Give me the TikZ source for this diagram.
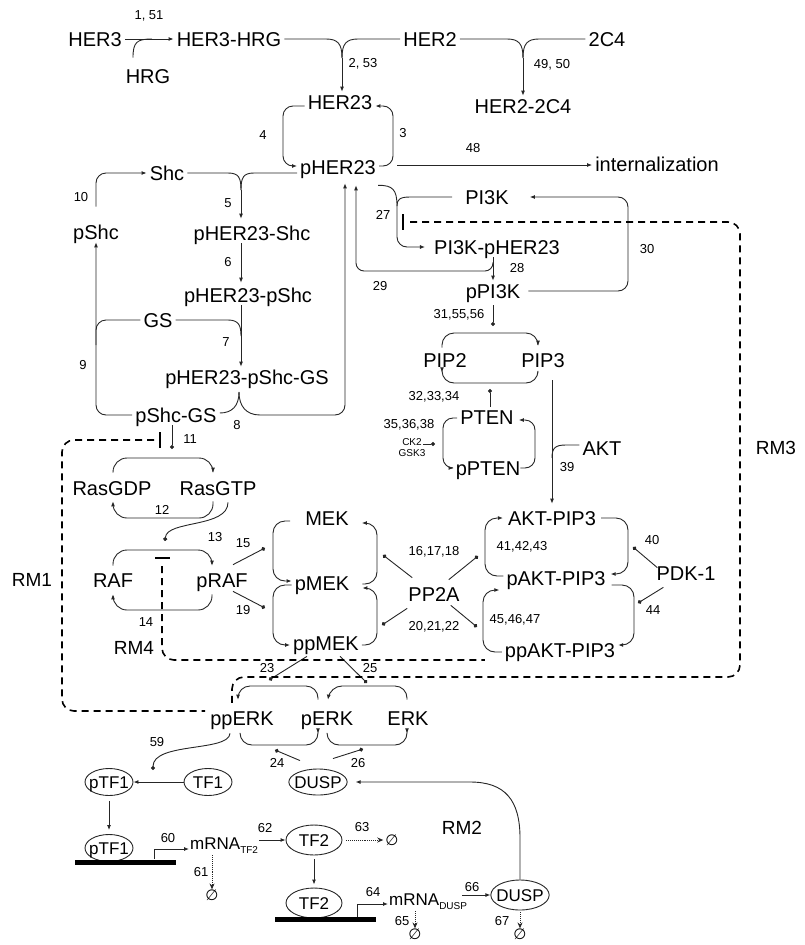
\documentclass[tikz,border=0pt]{standalone}
\usepackage{fontspec}
\setmainfont{Liberation Sans}
\newfontfamily\djv{DejaVu Sans}
\usetikzlibrary{arrows.meta,shapes.geometric,calc}
\tikzset{
  sp/.style={font=\fontsize{20}{22}\selectfont, inner sep=3pt, text height=14.3pt, text depth=0pt},
  num/.style={font=\fontsize{13}{14}\selectfont, inner sep=0pt},
  small/.style={font=\fontsize{10}{11}\selectfont, inner sep=0pt},
  rmlab/.style={font=\fontsize{19}{21}\selectfont, inner sep=0pt},
  mrna/.style={font=\fontsize{17}{19}\selectfont, inner sep=1pt, text height=12.2pt, text depth=0pt, anchor=west},
  ell/.style={ellipse, draw=black!85, line width=0.9pt, font=\fontsize{17}{19}\selectfont, inner xsep=-3pt, inner ysep=2pt, text height=12pt, text depth=0pt, minimum width=48pt, minimum height=27pt},
  ln/.style={line width=0.9pt, draw=black!85},
  ar/.style={ln, -{Latex[length=5pt,width=4pt]}},
  dt/.style={ln, -{Circle[length=4pt]}},
  dtar/.style={ln, densely dotted, -{Stealth[length=6pt,width=5pt]}},
  rm/.style={line width=1.6pt, dash pattern=on 7pt off 5pt},
  bar/.style={line width=1.8pt},
  dna/.style={line width=5pt},
  nul/.style={font=\djv\fontsize{15}{15}\selectfont, inner sep=0pt},
}
\begin{document}
\begin{tikzpicture}[x=1pt,y=-1pt]
\useasboundingbox (0,0) rectangle (804,945);

% ---------- species ----------
\node[sp] (her3) at (95,39) {HER3};
\node[sp] (her3hrg) at (229,39) {HER3-HRG};
\node[sp] (hrg) at (148,76) {HRG};
\node[sp] (her2) at (430,39) {HER2};
\node[sp] (c4) at (607,39) {2C4};
\node[sp] (her22c4) at (523,106) {HER2-2C4};
\node[sp] (her23) at (340,102) {HER23};
\node[sp] (pher23) at (338,167) {pHER23};
\node[sp] (intern) at (657,164) {internalization};
\node[sp] (shc) at (167,173) {Shc};
\node[sp] (pshc) at (96,232) {pShc};
\node[sp] (pher23shc) at (252,233) {pHER23-Shc};
\node[sp] (pher23pshc) at (248,295) {pHER23-pShc};
\node[sp] (gs) at (158,320) {GS};
\node[sp] (pher23pshcgs) at (247,377) {pHER23-pShc-GS};
\node[sp] (pshcgs) at (176,415) {pShc-GS};
\node[sp] (pi3k) at (487,197) {PI3K};
\node[sp] (pi3kpher23) at (497,247) {PI3K-pHER23};
\node[sp] (ppi3k) at (493,291) {pPI3K};
\node[sp] (pip2) at (445,360) {PIP2};
\node[sp] (pip3) at (543,360) {PIP3};
\node[sp] (pten) at (487,417) {PTEN};
\node[sp] (ppten) at (488,468) {pPTEN};
\node[sp] (akt) at (602,448) {AKT};
\node[sp] (aktpip3) at (552,518) {AKT-PIP3};
\node[sp] (paktpip3) at (556,578) {pAKT-PIP3};
\node[sp] (ppaktpip3) at (560,650) {ppAKT-PIP3};
\node[sp] (pdk) at (686,573) {PDK-1};
\node[sp] (pp2a) at (434,594) {PP2A};
\node[sp] (mek) at (327,518) {MEK};
\node[sp] (pmek) at (322,583) {pMEK};
\node[sp] (ppmek) at (326,643) {ppMEK};
\node[sp] (rasgdp) at (112,488) {RasGDP};
\node[sp] (rasgtp) at (218,488) {RasGTP};
\node[sp] (raf) at (113,580) {RAF};
\node[sp] (praf) at (222,580) {pRAF};
\node[sp] (pperk) at (242,718) {ppERK};
\node[sp] (perk) at (327,718) {pERK};
\node[sp] (erk) at (408,718) {ERK};
\node[ell, minimum width=58pt, minimum height=26pt] (dusp1) at (318,782) {DUSP};
\node[ell] (tf1) at (208,782) {TF1};
\node[ell] (ptf1) at (109,782) {pTF1};
\node[ell] (ptf1b) at (109,848) {pTF1};
\node[ell, minimum width=56pt, minimum height=30pt] (tf2) at (314,840) {TF2};
\node[ell, minimum width=56pt, minimum height=30pt] (tf2b) at (314,903) {TF2};
\node[ell, minimum width=57pt, minimum height=30pt] (dusp2) at (520,895) {DUSP};
\node[mrna] (mrnatf2) at (189,843) {mRNA\raisebox{-4pt}{\fontsize{10}{10}\selectfont TF2}};
\node[mrna] (mrnadusp) at (388,899) {mRNA\raisebox{-4pt}{\fontsize{10}{10}\selectfont DUSP}};
\node[nul] (n61) at (212,895) {∅};
\node[nul] (n63) at (392,840) {∅};
\node[nul] (n65) at (415,934) {∅};
\node[nul] (n67) at (520,934) {∅};
\node[small] (ck2) at (412,442) {CK2};
\node[small] (gsk3) at (412,453) {GSK3};

% ---------- region labels ----------
\node[rmlab] (rm1) at (32,580) {RM1};
\node[rmlab] (rm2) at (462,828) {RM2};
\node[rmlab] (rm3) at (776,448) {RM3};
\node[rmlab] (rm4) at (134,648) {RM4};

% ---------- reaction numbers ----------
\node[num] (l1) at (149,16) {1, 51};
\node[num] (l2) at (363,64) {2, 53};
\node[num] (l49) at (552,65) {49, 50};
\node[num] (l4) at (263,135) {4};
\node[num] (l3) at (403,133) {3};
\node[num] (l48) at (473,148) {48};
\node[num] (l10) at (81,197) {10};
\node[num] (l5) at (228,203) {5};
\node[num] (l6) at (228,262) {6};
\node[num] (l7) at (226,342) {7};
\node[num] (l9) at (83,365) {9};
\node[num] (l8) at (237,425) {8};
\node[num] (l27) at (383,215) {27};
\node[num] (l28) at (517,268) {28};
\node[num] (l29) at (380,286) {29};
\node[num] (l30) at (647,249) {30};
\node[num] (l31) at (459,315) {31,55,56};
\node[num] (l32) at (434,397) {32,33,34};
\node[num] (l35) at (409,425) {35,36,38};
\node[num] (l39) at (567,467) {39};
\node[num] (l40) at (652,540) {40};
\node[num] (l41) at (522,547) {41,42,43};
\node[num] (l44) at (653,610) {44};
\node[num] (l45) at (515,620) {45,46,47};
\node[num] (l16) at (434,552) {16,17,18};
\node[num] (l20) at (434,627) {20,21,22};
\node[num] (l11) at (190,439) {11};
\node[num] (l12) at (162,510) {12};
\node[num] (l13) at (215,537) {13};
\node[num] (l15) at (243,543) {15};
\node[num] (l19) at (243,610) {19};
\node[num] (l14) at (146,622) {14};
\node[num] (l23) at (267,668) {23};
\node[num] (l25) at (370,668) {25};
\node[num] (l24) at (277,763) {24};
\node[num] (l26) at (358,763) {26};
\node[num] (l59) at (157,742) {59};
\node[num] (l60) at (168,838) {60};
\node[num] (l61) at (201,872) {61};
\node[num] (l62) at (265,828) {62};
\node[num] (l63) at (362,827) {63};
\node[num] (l64) at (373,892) {64};
\node[num] (l65) at (402,921) {65};
\node[num] (l66) at (472,887) {66};
\node[num] (l67) at (502,921) {67};

% ---------- junction points ----------
\coordinate (jG) at (152,39);
\coordinate (jA) at (342,58);
\coordinate (jB) at (523,58);
\coordinate (jC) at (241,190);
\coordinate (jD) at (241,336);
\coordinate (jE) at (239,392);
\coordinate (jF) at (397,206);
\coordinate (j28) at (493,262);

% ---------- top: receptors ----------
\draw[ar] (her3) -- (her3hrg);
\draw[ln] ([xshift=-15pt,yshift=8pt]hrg.north) .. controls (133,42) and (137,39) .. (jG);
\draw[ln] (her3hrg.east) -- (326,39) .. controls (338,39) and (342,44) .. (jA);
\draw[ln] (her2.west) -- (358,39) .. controls (346,39) and (342,44) .. (jA);
\draw[ar] (jA) -- (jA |- her23.north);
\draw[ln] (her2.east) -- (507,39) .. controls (519,39) and (523,44) .. (jB);
\draw[ln] (c4.west) -- (539,39) .. controls (527,39) and (523,44) .. (jB);
\draw[ar] (jB) -- (jB |- her22c4.north);

\draw[ar, rounded corners=10pt] ([yshift=-4pt]her23.west) -| (283,140) |- ([yshift=1pt]pher23.west);
\draw[ar, rounded corners=10pt] ([yshift=1pt]pher23.east) -| (393,140) |- ([yshift=-4pt]her23.east);
\draw[ar] ([xshift=18pt,yshift=2pt]pher23.east) -- ([yshift=-1pt]intern.west);

% ---------- Shc branch ----------
\draw[ln] (shc.east) -- (228,173) .. controls (239,173) and (241,178) .. (jC);
\draw[ln] ([yshift=-6pt]pher23.west) -- (254,173) .. controls (243,173) and (241,178) .. (jC);
\draw[ar] (jC) -- ([yshift=4pt]jC |- pher23shc.north);
\draw[ar] (pher23shc.south -| jC) -- ([yshift=2pt]pher23pshc.north -| jC);
\draw[ln] (gs.east) -- (228,320) .. controls (239,320) and (241,326) .. (jD);
\draw[ar] (pher23pshc.south -| jC) -- (pher23pshcgs.north -| jC);
\draw[ln] ([yshift=2pt]pshcgs.east) .. controls (232,413) and (239,406) .. (jE);
\draw[ar] (jE) .. controls (239,406) and (246,415) .. (260,415) [rounded corners=10pt] -- (345,415) -- ([xshift=7pt,yshift=-6pt]pher23.south);
\draw[ar, rounded corners=10pt] (pshcgs.west) -| (pshc.south);
\draw[ln, rounded corners=10pt] (gs.west) -| (96,345);
\draw[ar, rounded corners=10pt] ([yshift=15pt]pshc.north) |- (shc.west);

% ---------- PI3K branch ----------
\draw[ln] ([xshift=-1pt,yshift=-8pt]pher23.south east) .. controls (393,185) and (397,190) .. (jF);
\draw[ln] ([xshift=-10pt]pi3k.west) -- (410,197) .. controls (399,197) and (397,200) .. (jF);
\draw[ar, rounded corners=10pt] (jF) |- ([xshift=-6pt]pi3kpher23.west);
\draw[ar] (pi3kpher23.south -| ppi3k.north) -- (ppi3k.north);
\draw[ar, rounded corners=8pt] (j28) |- (356,271) -- ([xshift=18pt,yshift=-8pt]pher23.south);
\draw[ar, rounded corners=10pt] ([xshift=5pt]ppi3k.east) -| (628,240) |- ([xshift=18pt]pi3k.east);
\draw[dt] ([yshift=-4pt]ppi3k.south) -- (493,326);

\draw[ar, rounded corners=12pt] ([xshift=-3pt,yshift=2pt]pip2.north) -- (442,333) -- (538,333) -- ([xshift=-5pt,yshift=4pt]pip3.north);
\draw[ar, rounded corners=12pt] ([xshift=-5pt,yshift=-3pt]pip3.south) -- (538,383) -- (442,383) -- ([xshift=-3pt,yshift=-2pt]pip2.south);
\draw[dt] ([xshift=3pt]pten.north) -- (490,389);
\draw[ar, rounded corners=10pt] ([yshift=-1pt]pten.west) -- (443,418) -- (443,468) -- ([xshift=1pt]ppten.west);
\draw[ar, rounded corners=10pt] ([xshift=-3pt]ppten.east) -- (535,468) -- (535,420) -- ([xshift=2pt,yshift=-3pt]pten.east);
\draw[dt] ([xshift=1pt,yshift=-2pt]ck2.east) -- (435,444);

\draw[ar] ([xshift=9pt,yshift=-10pt]pip3.south) -- ([yshift=4pt]aktpip3.north);
\draw[ln] ([yshift=3pt]akt.west) -- (566,445) .. controls (555,445) and (552,448) .. (552,458);

\draw[ar, rounded corners=12pt] ([yshift=2pt]paktpip3.west) -- (485,576) -- (485,518) -- ([xshift=-2pt]aktpip3.west);
\draw[ar, rounded corners=12pt] ([xshift=2pt]aktpip3.east) -- (628,518) -- (628,574) -- ([xshift=2pt,yshift=4pt]paktpip3.east);
\draw[ar, rounded corners=12pt] ([xshift=3pt,yshift=-7pt]paktpip3.east) -- (634,585) -- (634,645) -- ([yshift=5pt]ppaktpip3.east);
\draw[ar, rounded corners=12pt] ([yshift=-2pt]ppaktpip3.west) -- (483,652) -- (483,590) -- ([xshift=-4pt,yshift=-12pt]paktpip3.west);
\draw[dt] ([xshift=4pt,yshift=-5pt]pdk.north west) -- (633,547);
\draw[dt] ([xshift=10pt,yshift=-4pt]pdk.south west) -- (638,603);

% ---------- Ras / RAF / MEK ----------
\draw[dt] ([xshift=-4pt]pshcgs.south) -- (172,449);
\draw[ar, rounded corners=14pt] ([xshift=1pt,yshift=5pt]rasgdp.north) |- (213,458) -- ([xshift=-5pt,yshift=5pt]rasgtp.north);
\draw[ar, rounded corners=14pt] ([xshift=-5pt,yshift=-3pt]rasgtp.south) |- (113,518) -- ([xshift=1pt,yshift=-3pt]rasgdp.south);
\draw[dt] ([xshift=10pt,yshift=-4pt]rasgtp.south) .. controls (228,528) and (167,520) .. (165,541);

\draw[ar, rounded corners=14pt] ([yshift=4pt]raf.north) |- (212,550) -- ([xshift=-10pt,yshift=4pt]praf.north);
\draw[ar, rounded corners=14pt] ([xshift=-10pt,yshift=-4pt]praf.south) |- (113,610) -- ([yshift=-4pt]raf.south);
\draw[dt] ([xshift=11pt,yshift=5pt]praf.north) -- (265,548);
\draw[dt] ([xshift=11pt,yshift=-1pt]praf.south) -- (265,608);

\draw[ar, rounded corners=12pt] ([xshift=-12pt,yshift=-3pt]mek.west) -- (273,521) -- (273,581) -- ([yshift=2pt]pmek.west);
\draw[ar, rounded corners=12pt] ([yshift=-2pt]pmek.west) -- (273,585) -- (273,645) -- ([yshift=-2pt]ppmek.west);
\draw[ar, rounded corners=12pt] ([xshift=10pt,yshift=-1pt]pmek.east) -- (377,584) -- (377,523) -- ([xshift=10pt,yshift=-5pt]mek.east);
\draw[ar, rounded corners=12pt] ([yshift=-2pt]ppmek.east) -- (377,645) -- (377,588) -- ([xshift=10pt,yshift=-5pt]pmek.east);

\draw[dt] ([xshift=7pt,yshift=6pt]pp2a.north west) -- (383,555);
\draw[dt] ([xshift=2pt,yshift=-4pt]pp2a.south west) -- (382,625);
\draw[dt] ([xshift=-14pt,yshift=4pt]pp2a.north east) -- (478,556);
\draw[dt] ([xshift=-12pt,yshift=-1pt]pp2a.south east) -- (477,627);

% ---------- ERK ----------
\draw[ar, rounded corners=12pt] ([xshift=-9pt,yshift=8pt]perk.north) -- (318,686) -- (238,686) -- ([xshift=-4pt,yshift=8pt]pperk.north);
\draw[ar, rounded corners=12pt] ([xshift=-1pt,yshift=8pt]erk.north) -- (407,686) -- (330,686) -- ([xshift=1pt,yshift=8pt]perk.north);
\draw[ar, rounded corners=12pt] ([xshift=-2pt,yshift=-5pt]pperk.south) -- (240,745) -- (318,745) -- ([xshift=-9pt,yshift=-5pt]perk.south);
\draw[ar, rounded corners=12pt] ([yshift=-5pt]perk.south) -- (327,745) -- (407,745) -- ([xshift=-1pt,yshift=-5pt]erk.south);
\draw[dt] ([xshift=-19pt,yshift=-3pt]ppmek.south) -- (269,680);
\draw[dt] ([xshift=14pt,yshift=-3pt]ppmek.south) -- (367,683);
\draw[dt] ([xshift=-18pt,yshift=8pt]dusp1.north) -- (275,750);
\draw[dt] ([xshift=15pt,yshift=10pt]dusp1.north) -- (363,749);

% ---------- transcription ----------
\draw[dt] ([xshift=-12pt,yshift=-5pt]pperk.south) .. controls (229,752) and (153,742) .. (153,770);
\draw[ar] (tf1) -- (ptf1);
\draw[ar] ([yshift=-5pt]ptf1.south) -- ([yshift=4pt]ptf1b.north);
\draw[dna] (75,862) -- (176,862);
\draw[ar] (154,859) |- ([yshift=-6pt]mrnatf2.west);
\draw[dtar] ([xshift=23pt,yshift=-5pt]mrnatf2.south west) -- (n61.north);
\draw[ar] ([yshift=3pt]mrnatf2.east) -- (tf2.west);
\draw[dtar] ([xshift=4pt]tf2.east) -- ([xshift=-2pt]n63.west);
\draw[ar] ([yshift=-4pt]tf2.south) -- ([yshift=3pt]tf2b.north);
\draw[dna] (275,919) -- (376,919);
\draw[ar] (357,917) |- ([yshift=-5pt]mrnadusp.west);
\draw[dtar] ([xshift=27pt,yshift=-5pt]mrnadusp.south west) -- (n65.north);
\draw[ar] ([xshift=-6pt,yshift=4pt]mrnadusp.east) -- (dusp2.west);
\draw[dtar] ([yshift=-2pt]dusp2.south) -- (n67.north);
\draw[ar] (dusp2.north) -- (520,838) .. controls (520,800) and (505,782) .. (470,782) -- ([xshift=8pt]dusp1.east);

% ---------- regulatory modules (dashed) ----------
\draw[bar] (160,432) -- (160,448);
\draw[rm, rounded corners=12pt] (154,440) -| (62,600) |- (205,711);
\draw[bar] (155,558) -- (170,558);
\draw[rm, rounded corners=12pt] (162,566) |- ([xshift=-17pt,yshift=-10pt]ppaktpip3.west);
\draw[bar] (403,214) -- (403,230);
\draw[rm, rounded corners=12pt] (410,222) -| (740,450) |- (232,677) -- (232,703);
\end{tikzpicture}
\end{document}
